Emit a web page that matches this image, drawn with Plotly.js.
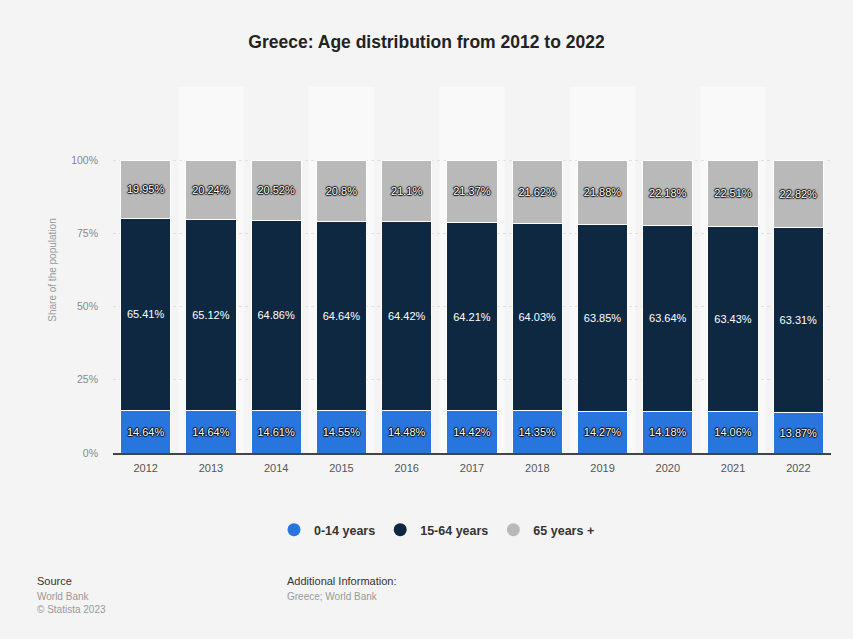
<!DOCTYPE html>
<html><head><meta charset="utf-8">
<script src="https://cdn.plot.ly/plotly-3.0.1.min.js"></script>
<style>html,body{margin:0;padding:0;background:#f4f4f4;}#chart{width:853px;height:639px;}</style>
</head><body><div id="chart"></div>
<script>
const years = ['2012','2013','2014','2015','2016','2017','2018','2019','2020','2021','2022'];
const age0_14 = [14.64,14.64,14.61,14.55,14.48,14.42,14.35,14.27,14.18,14.06,13.87];
const age15_64 = [65.41,65.12,64.86,64.64,64.42,64.21,64.03,63.85,63.64,63.43,63.31];
const age65 = [19.95,20.24,20.52,20.8,21.1,21.37,21.62,21.88,22.18,22.51,22.82];
const seriesNames = ['0-14 years','15-64 years','65 years +'];
const colors = ['#2876dd','#0f2841','#b9b9b9'];
const yTickVals = [0,25,50,75,100,125];
const yTickText = ['0%','25%','50%','75%','100%',''];

const outline = '1px 0 1px #000, -1px 0 1px #000, 0 1px 1px #000, 0 -1px 1px #000';
function barTrace(vals, i, shadow){
  return {
    type:'bar', x:years, y:vals, name:seriesNames[i],
    marker:{color:colors[i], line:{color:'#ffffff', width:1}},
    text: vals.map(v=>v+'%'), textposition:'inside', insidetextanchor:'middle',
    textangle:0, constraintext:'none',
    textfont:{family:'Arial, Liberation Sans, sans-serif', size:11, color:'#ffffff', shadow:shadow},
    hoverinfo:'skip', showlegend:false
  };
}
const data = [
  barTrace(age0_14,0,outline),
  barTrace(age15_64,1,'none'),
  barTrace(age65,2,outline)
];
seriesNames.forEach((n,i)=>{
  data.push({type:'scatter', mode:'markers', x:[null], y:[null], name:n,
    marker:{symbol:'circle', size:13, color:colors[i]}, showlegend:true, hoverinfo:'skip'});
});

const shapes = years.map((y,i)=> i%2===1 ? {type:'rect', xref:'x', yref:'paper', x0:i-0.5, x1:i+0.5, y0:0, y1:1,
  fillcolor:'#f9f9f9', line:{width:0}, layer:'below'} : null).filter(s=>s);

const L=113, R=831, T=87, B=453, W=R-L, H=B-T;
function px(xp){return (xp-L)/W;}
function py(yp){return (B-yp)/H;}
const fam = 'Arial, Liberation Sans, sans-serif';
const annotations = [
  {text:'Source', x:px(35), y:py(581), xanchor:'left', yanchor:'middle', font:{size:11,color:'#333',family:fam}},
  {text:'World Bank', x:px(35), y:py(596), xanchor:'left', yanchor:'middle', font:{size:10,color:'#999',family:fam}},
  {text:'© Statista 2023', x:px(35), y:py(609), xanchor:'left', yanchor:'middle', font:{size:10,color:'#999',family:fam}},
  {text:'Additional Information:', x:px(285), y:py(581), xanchor:'left', yanchor:'middle', font:{size:11,color:'#333',family:fam}},
  {text:'Greece; World Bank', x:px(285), y:py(596), xanchor:'left', yanchor:'middle', font:{size:10,color:'#999',family:fam}}
].map(a=>Object.assign({xref:'paper', yref:'paper', showarrow:false}, a));

const layout = {
  width:853, height:639,
  paper_bgcolor:'#f4f4f4', plot_bgcolor:'#f4f4f4',
  margin:{l:L, r:853-R, t:T, b:639-B},
  barmode:'stack', bargap:0.23,
  title:{text:'<b>Greece: Age distribution from 2012 to 2022</b>', x:0.5, xref:'container', y:1-42/639, yanchor:'middle',
    font:{family:fam, size:17.5, color:'#222'}},
  xaxis:{type:'category', tickfont:{family:fam,size:11,color:'#555'}, showgrid:false, zeroline:false,
    showline:true, linecolor:'#444', linewidth:1.5, ticks:'', ticklabelstandoff:4, fixedrange:true},
  yaxis:{range:[0,125], tickvals:yTickVals, ticktext:yTickText, tickfont:{family:fam,size:10.5,color:'#888'},
    showgrid:true, gridcolor:'#e0e0e0', griddash:'dot', gridwidth:1, zeroline:false, ticks:'', ticklabelstandoff:14,
    title:{text:'Share of the population', font:{family:fam,size:10,color:'#999'}, standoff:12}, automargin:false, fixedrange:true},
  legend:{orientation:'h', traceorder:'normal', x:px(437), xanchor:'center', y:py(530), yanchor:'middle',
    font:{family:fam, size:12.5, color:'#333', weight:'bold'}, bgcolor:'rgba(0,0,0,0)', itemclick:false},
  shapes:shapes, annotations:annotations, showlegend:true
};
Plotly.newPlot('chart', data, layout, {displayModeBar:false, staticPlot:true});
</script></body></html>
